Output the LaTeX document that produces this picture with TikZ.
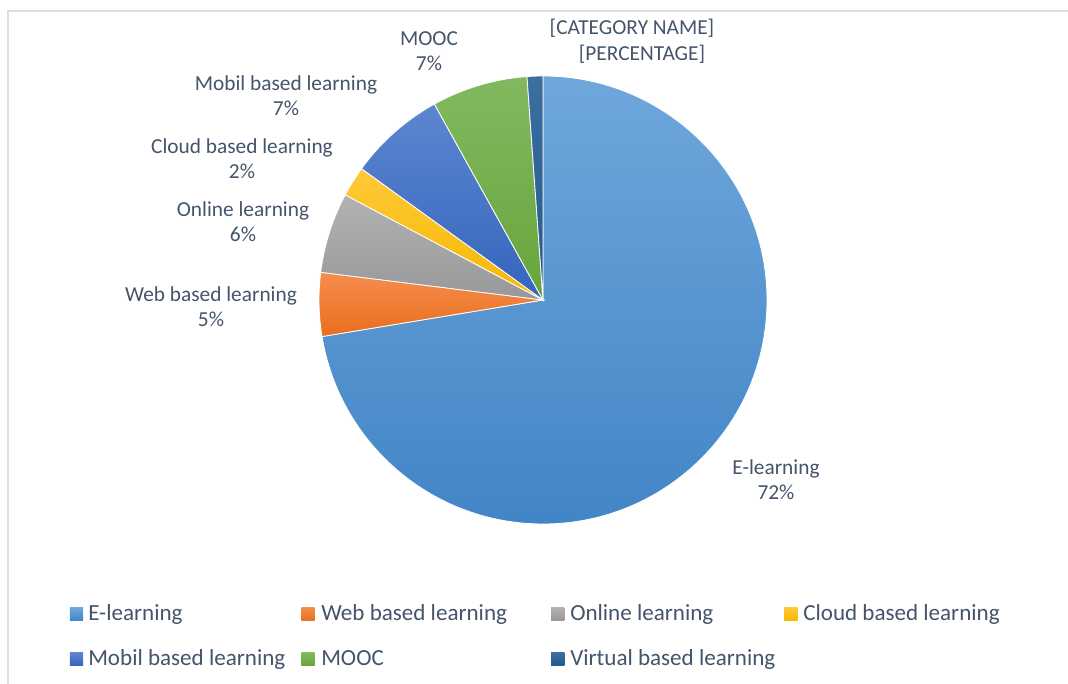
\documentclass[tikz,border=0pt]{standalone}
\usepackage{fontspec}
\setmainfont{Carlito}
\definecolor{txt}{HTML}{44546A}
\definecolor{frame}{HTML}{D9DEE8}
\definecolor{eT}{HTML}{6FA7DB}\definecolor{eB}{HTML}{4285C6}
\definecolor{wT}{HTML}{F58D4E}\definecolor{wB}{HTML}{EA6E1C}
\definecolor{oT}{HTML}{B2B2B2}\definecolor{oB}{HTML}{989898}
\definecolor{cT}{HTML}{FFC939}\definecolor{cB}{HTML}{F4B800}
\definecolor{mT}{HTML}{5D86D0}\definecolor{mB}{HTML}{3464BD}
\definecolor{gT}{HTML}{82B960}\definecolor{gB}{HTML}{66A53B}
\definecolor{vT}{HTML}{3D6E9F}\definecolor{vB}{HTML}{205A8E}
\begin{document}
\begin{tikzpicture}[x=0.75pt,y=0.75pt,
  slice/.style={draw=white,line width=0.6pt},
  lbl/.style={text=txt,font=\fontsize{16}{19}\selectfont,align=center,inner sep=0pt},
  leg/.style={text=txt,font=\fontsize{17.3}{20}\selectfont,inner sep=0pt,anchor=base west},
  sq/.style={minimum size=9.9pt,inner sep=0pt}]
\useasboundingbox (0,0) rectangle (1068,684);
\draw[frame,line width=1.5pt] (8,0) -- (8,673) -- (1068,673);
\coordinate (c) at (543,384);
\def\R{224}
% slices
\shadedraw[slice,top color=eT,bottom color=eB] (c) -- ++(90:\R) arc[start angle=90,end angle=-170.6,radius=\R] -- cycle;
\shadedraw[slice,top color=wT,bottom color=wB] (c) -- ++(172.9:\R) arc[start angle=172.9,end angle=189.4,radius=\R] -- cycle;
\shadedraw[slice,top color=oT,bottom color=oB] (c) -- ++(152:\R) arc[start angle=152,end angle=172.9,radius=\R] -- cycle;
\shadedraw[slice,top color=cT,bottom color=cB] (c) -- ++(144.1:\R) arc[start angle=144.1,end angle=152,radius=\R] -- cycle;
\shadedraw[slice,top color=mT,bottom color=mB] (c) -- ++(119:\R) arc[start angle=119,end angle=144.1,radius=\R] -- cycle;
\shadedraw[slice,top color=gT,bottom color=gB] (c) -- ++(94.1:\R) arc[start angle=94.1,end angle=119,radius=\R] -- cycle;
\shadedraw[slice,top color=vT,bottom color=vB] (c) -- ++(90:\R) arc[start angle=90,end angle=94.1,radius=\R] -- cycle;
% labels
\node[lbl] (lmooc) at (429,633) {MOOC\\7\%};
\node[lbl] (lcat) at (632,656) {[CATEGORY NAME]};
\node[lbl] (lpct) at (642,630) {[PERCENTAGE]};
\node[lbl] (lmob) at (286,588) {Mobil based learning\\7\%};
\node[lbl] (lcld) at (242,525) {Cloud based learning\\2\%};
\node[lbl] (lonl) at (243,462) {Online learning\\6\%};
\node[lbl] (lweb) at (211,377.5) {Web based learning\\5\%};
\node[lbl] (lel) at (776,204.5) {E-learning\\72\%};
% legend
\node[sq,top color=eT,bottom color=eB] (s1) at (76.5,70) {};
\node[leg] (t1) at (88,63) {E-learning};
\node[sq,top color=wT,bottom color=wB] (s2) at (308,70) {};
\node[leg] (t2) at (321,63) {Web based learning};
\node[sq,top color=oT,bottom color=oB] (s3) at (557.7,70) {};
\node[leg] (t3) at (570,63) {Online learning};
\node[sq,top color=cT,bottom color=cB] (s4) at (791,70) {};
\node[leg] (t4) at (803,63) {Cloud based learning};
\node[sq,top color=mT,bottom color=mB] (s5) at (76.5,25) {};
\node[leg] (t5) at (88,18) {Mobil based learning};
\node[sq,top color=gT,bottom color=gB] (s6) at (308,25) {};
\node[leg] (t6) at (321,18) {MOOC};
\node[sq,top color=vT,bottom color=vB] (s7) at (557.7,25) {};
\node[leg] (t7) at (570,18) {Virtual based learning};
\end{tikzpicture}
\end{document}
